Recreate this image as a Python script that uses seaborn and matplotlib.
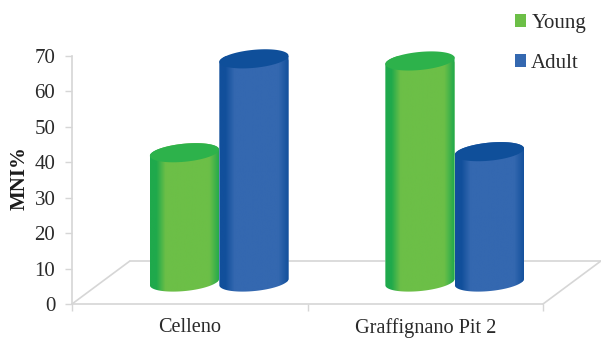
import numpy as np
import pandas as pd
import matplotlib
matplotlib.use("Agg")
import matplotlib.pyplot as plt
from matplotlib.colors import LinearSegmentedColormap
from matplotlib.lines import Line2D
from matplotlib.patches import Patch, PathPatch
from matplotlib.path import Path
import seaborn as sns

# Data
sites = ["Celleno", "Graffignano Pit 2"]
young_mni = [36.5, 62.4]
adult_mni = [63.0, 36.8]
age_groups = ["Young", "Adult"]
y_ticks = [0, 10, 20, 30, 40, 50, 60, 70]

# Colours
palette = {"Young": "#6cbf47", "Adult": "#3468b0"}
side_edges = {"Young": "#1fa94c", "Adult": "#114f9b"}
cap_colours = {"Young": "#2db24b", "Adult": "#0f4f9a"}
frame_grey = "#d6d6d6"
text_grey = "#2a2a2a"

# Pretend-3D layout: the columns stand part way back on a tilted floor
DEPTH_X = 0.125      # category units
DEPTH_Y = 6.2        # MNI units
FLOOR_BACK_X = 0.245
FLOOR_BACK_Y = 12.1
CAP_HALF_H_PX = 9.0
TILT = np.deg2rad(5.6)

sns.set_style("white")
plt.rcParams["font.family"] = ["Liberation Serif", "DejaVu Serif"]

W, H = 601, 338
fig = plt.figure(figsize=(W / 100, H / 100), dpi=100)
ax = fig.add_axes([72 / W, 1 - 304 / H, (543 - 72) / W, (304 - 56) / H])

table = pd.DataFrame({
    "site": sites * 2,
    "group": [age_groups[0]] * 2 + [age_groups[1]] * 2,
    "mni": young_mni + adult_mni,
})
sns.barplot(data=table, x="site", y="mni", hue="group", hue_order=age_groups,
            palette=palette, width=0.59, gap=0, saturation=1, legend=False, ax=ax)
ax.set_xlim(-0.5, 1.5)
ax.set_ylim(0, 70)

bbox = ax.get_window_extent()
x_per_px = 2.0 / bbox.width
y_per_px = 70.0 / bbox.height


def cylinder_outline(x_mid, half_w, base, top):
    """Silhouette of a tilted cylinder, in data coordinates."""
    half_px = half_w / x_per_px
    t = np.linspace(np.pi, 2 * np.pi, 50)
    ex = half_px * np.cos(t)
    ey = CAP_HALF_H_PX * np.sin(t)
    low_x = ex * np.cos(TILT) - ey * np.sin(TILT)
    low_y = ex * np.sin(TILT) + ey * np.cos(TILT)
    t = np.linspace(0, np.pi, 50)
    ex = half_px * np.cos(t)
    ey = CAP_HALF_H_PX * np.sin(t)
    up_x = ex * np.cos(TILT) - ey * np.sin(TILT)
    up_y = ex * np.sin(TILT) + ey * np.cos(TILT)
    xs = np.r_[low_x, up_x] * x_per_px + x_mid
    ys = np.r_[base + low_y * y_per_px, top + up_y * y_per_px]
    return Path(np.column_stack([xs, ys]))


def cap_outline(x_mid, half_w, top):
    half_px = half_w / x_per_px
    t = np.linspace(0, 2 * np.pi, 100)
    ex = half_px * np.cos(t)
    ey = CAP_HALF_H_PX * np.sin(t)
    xs = (ex * np.cos(TILT) - ey * np.sin(TILT)) * x_per_px + x_mid
    ys = top + (ex * np.sin(TILT) + ey * np.cos(TILT)) * y_per_px
    return Path(np.column_stack([xs, ys]))


# Floor outline
floor_kw = dict(color=frame_grey, lw=1.2, clip_on=False, zorder=1)
ax.add_line(Line2D([-0.5, -0.5 + FLOOR_BACK_X], [0, FLOOR_BACK_Y], **floor_kw))
ax.add_line(Line2D([-0.5 + FLOOR_BACK_X, 1.5 + FLOOR_BACK_X],
                   [FLOOR_BACK_Y, FLOOR_BACK_Y], **floor_kw))
ax.add_line(Line2D([1.5, 1.5 + FLOOR_BACK_X], [0, FLOOR_BACK_Y], **floor_kw))

# Turn each seaborn bar into a shaded column
stops = [0.0, 0.09, 0.22, 0.85, 1.0]
for order, (group, bars) in enumerate(zip(age_groups, ax.containers)):
    mid = palette[group]
    edge = side_edges[group]
    shade = LinearSegmentedColormap.from_list(
        group, list(zip(stops, [edge, edge, mid, mid, edge])))
    for bar in bars:
        value = bar.get_height()
        half_w = bar.get_width() / 2
        x_mid = bar.get_x() + half_w + DEPTH_X
        bar.set_x(x_mid - half_w)
        bar.set_y(DEPTH_Y)
        z = 3 + order
        outline = cylinder_outline(x_mid, half_w, DEPTH_Y, DEPTH_Y + value)
        keep = PathPatch(outline, transform=ax.transData, fc="none", ec="none")
        ax.add_patch(keep)
        keep.set_clip_on(False)
        bar.set_zorder(z)
        bar.set_clip_path(keep)
        image = ax.imshow(np.linspace(0, 1, 128).reshape(1, -1), cmap=shade,
                          aspect="auto", zorder=z,
                          extent=[x_mid - half_w, x_mid + half_w,
                                  DEPTH_Y - 8, DEPTH_Y + value + 8])
        image.set_clip_path(keep)
        image.set_clip_box(None)
        ax.add_patch(PathPatch(cap_outline(x_mid, half_w, DEPTH_Y + value),
                               fc=cap_colours[group], ec="none", zorder=z,
                               clip_on=False))

ax.set_xlim(-0.5, 1.5)
ax.set_ylim(0, 70)

# Axes, ticks and labels
sns.despine(ax=ax)
for side in ("left", "bottom"):
    ax.spines[side].set_color(frame_grey)
    ax.spines[side].set_linewidth(1.2)
ax.set_yticks(y_ticks)
ax.set_xticks([-0.5, 0.5, 1.5])
ax.set_xticklabels([])
ax.set_xticks([0, 1], labels=sites, minor=True)
ax.tick_params(axis="y", length=5, width=1, color=frame_grey, left=True,
               labelsize=15, labelcolor=text_grey, pad=7)
ax.tick_params(axis="x", which="major", length=5, width=1, color=frame_grey, bottom=True)
ax.tick_params(axis="x", which="minor", length=0, labelsize=14.6,
               labelcolor=text_grey, pad=10)
ax.set_xlabel("")
ax.set_ylabel("")
fig.text(19.5 / W, 1 - 178 / H, "MNI%", rotation=90, ha="center", va="center",
         fontsize=15, fontweight="bold", color="#1c1c1c")

handles = [Patch(facecolor=palette[g], edgecolor="none", label=g) for g in age_groups]
fig.legend(handles=handles, loc="upper left",
           bbox_to_anchor=(515 / W, 1 - 14 / H), frameon=False, fontsize=15,
           labelcolor=text_grey, handlelength=0.53, handleheight=0.53,
           handletextpad=0.25, labelspacing=1.0, borderpad=0, borderaxespad=0)

fig.savefig("out.png", dpi=100)
